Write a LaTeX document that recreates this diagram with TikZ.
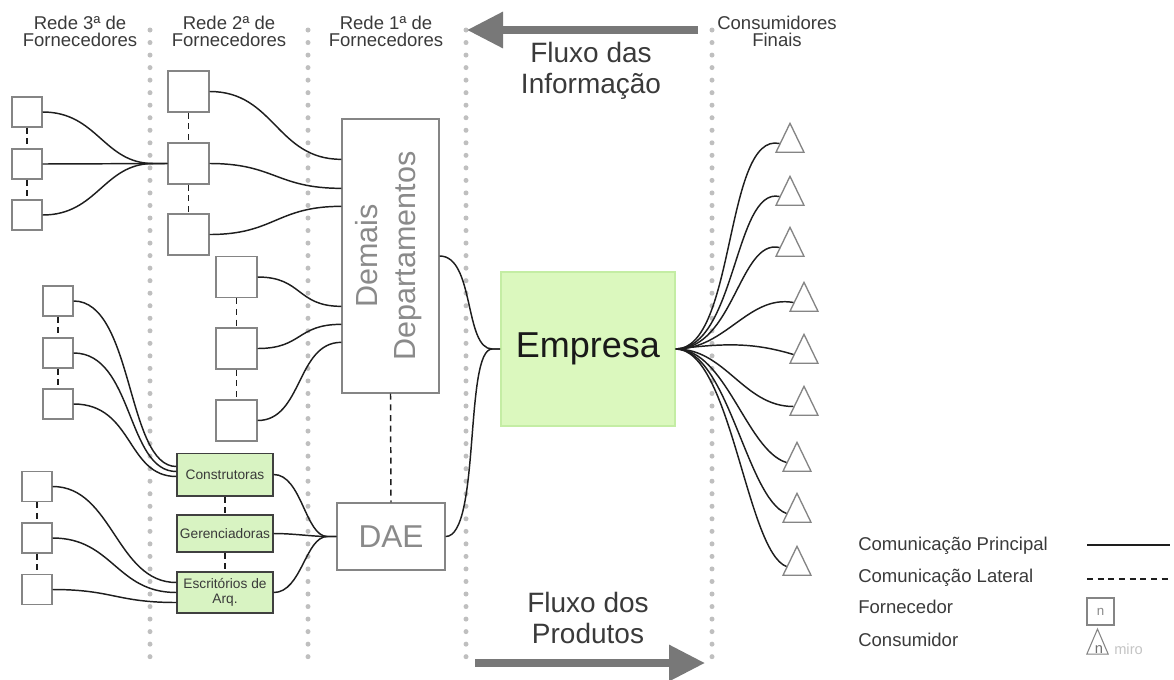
\documentclass[tikz,border=0pt]{standalone}
\usepackage{fontspec}
\setmainfont{Liberation Sans}
\usetikzlibrary{arrows.meta,shapes.geometric,calc}
\definecolor{boxgray}{HTML}{858585}
\definecolor{linec}{HTML}{1E1E1E}
\definecolor{dotc}{HTML}{BFBFBF}
\definecolor{headc}{HTML}{3A3A3A}
\definecolor{greenf}{HTML}{D8F3C2}
\definecolor{empf}{HTML}{DBF8BE}
\definecolor{empd}{HTML}{C4EDA4}
\definecolor{arrowc}{HTML}{787878}
\definecolor{txtgray}{HTML}{8A8A8A}
\definecolor{miroc}{HTML}{C4C4C4}
\begin{document}
\begin{tikzpicture}[x=0.75pt,y=-0.75pt,
  sbox/.style={draw=boxgray, line width=1pt, fill=white, minimum width=22.5pt, minimum height=22.5pt, inner sep=0pt},
  mbox/.style={sbox, minimum width=30.75pt, minimum height=30.75pt},
  gbox/.style={draw=linec!85, line width=1pt, fill=greenf, minimum width=72pt, inner sep=0pt, align=center, font=\fontsize{10.3pt}{11.3pt}\selectfont, text=headc},
  tri/.style={draw=boxgray, line width=1pt, fill=white, isosceles triangle, isosceles triangle stretches, shape border rotate=90, minimum width=21pt, minimum height=21.75pt, inner sep=0pt},
  conn/.style={draw=linec, line width=1.1pt},
  lat/.style={draw=linec, line width=1.1pt, dash pattern=on 4.5pt off 3.5pt},
  dotline/.style={draw=dotc, line width=3.75pt, line cap=round, dash pattern=on 0pt off 9.4pt},
  head/.style={text=headc, align=center, font=\fontsize{13.9pt}{12.9pt}\selectfont, inner sep=0pt},
  flux/.style={text=headc, align=center, font=\fontsize{21pt}{23pt}\selectfont, inner sep=0pt},
  leg/.style={text=headc, inner sep=0pt, anchor=base west, font=\fontsize{13.9pt}{14pt}\selectfont},
  bigarrow/.style={draw=arrowc, line width=5.5pt, -{Triangle[length=27pt,width=26pt]}}
]
\useasboundingbox (0,0) rectangle (1174,679);

% dotted separators
\foreach \x in {150,308,466,712} \draw[dotline] (\x,30) -- (\x,668);

% headers
\node[head] (h3) at (80,31) {Rede 3ª de\\Fornecedores};
\node[head] (h2) at (229,31) {Rede 2ª de\\Fornecedores};
\node[head] (h1) at (386,31) {Rede 1ª de\\Fornecedores};
\node[head] (h0) at (777,31) {Consumidores\\Finais};

% flow texts and arrows
\node[flux] (fi) at (591,71) {Fluxo das\\Informação};
\node[flux] (fp) at (588,618) {Fluxo dos\\Produtos};
\coordinate (ia) at (698,30); \coordinate (ib) at (467,30);
\draw[bigarrow] (ia) -- (ib);
\coordinate (pa) at (475,663); \coordinate (pb) at (705,663);
\draw[bigarrow] (pa) -- (pb);

% third tier suppliers
\node[sbox] (a1) at (27,112) {};
\node[sbox] (a2) at (27,164) {};
\node[sbox] (a3) at (27,215) {};
\node[sbox] (d1) at (58,301) {};
\node[sbox] (d2) at (58,353) {};
\node[sbox] (d3) at (58,404) {};
\node[sbox] (e1) at (37,486.5) {};
\node[sbox] (e2) at (37,538) {};
\node[sbox] (e3) at (37,589.5) {};

% second tier suppliers
\node[mbox] (b1) at (188.5,91.5) {};
\node[mbox] (b2) at (188.5,163.5) {};
\node[mbox] (b3) at (188.5,234.5) {};
\node[mbox] (c1) at (236.5,277) {};
\node[mbox] (c2) at (236.5,348.5) {};
\node[mbox] (c3) at (236.5,420.5) {};
\node[gbox, minimum height=32pt] (cons) at (225,474.5) {Construtoras};
\node[gbox, minimum height=27.75pt] (ger) at (225,533.5) {Gerenciadoras};
\node[gbox, minimum height=30.75pt] (esc) at (225,592.5) {Escritórios de\\Arq.};

% first tier
\node[draw=boxgray, line width=1pt, fill=white, minimum width=72.75pt, minimum height=205.5pt, inner sep=0pt] (dem) at (390.5,256) {};
\node[text=txtgray, rotate=90, align=center, font=\fontsize{22.9pt}{28.5pt}\selectfont, inner sep=0pt] (demt) at (389,256) {Demais\\Departamentos};
\node[draw=boxgray, line width=1pt, fill=white, minimum width=81pt, minimum height=50.25pt, inner sep=0pt, text=txtgray, font=\fontsize{23.7pt}{24pt}\selectfont] (dae) at (391,536.5) {DAE};

% company
\node[draw=empd, line width=1.2pt, fill=empf, minimum width=130.5pt, minimum height=115.5pt, inner sep=0pt, text=black!90, font=\fontsize{27pt}{28pt}\selectfont] (emp) at (588,349) {Empresa};

% consumers
\node[tri] (t1) at (790,143.5) {};
\node[tri] (t2) at (790,196.5) {};
\node[tri] (t3) at (790,247.5) {};
\node[tri] (t4) at (804,302.5) {};
\node[tri] (t5) at (804,354.5) {};
\node[tri] (t6) at (804,406.5) {};
\node[tri] (t7) at (797,462.5) {};
\node[tri] (t8) at (797,513.5) {};
\node[tri] (t9) at (797,566.5) {};

% lateral (dashed) links
\draw[lat] (a1.south) -- (a2.north);
\draw[lat] (a2.south) -- (a3.north);
\draw[lat] (d1.south) -- (d2.north);
\draw[lat] (d2.south) -- (d3.north);
\draw[lat] (e1.south) -- (e2.north);
\draw[lat] (e2.south) -- (e3.north);
\draw[lat] (b1.south) -- (b2.north);
\draw[lat] (b2.south) -- (b3.north);
\draw[lat] (c1.south) -- (c2.north);
\draw[lat] (c2.south) -- (c3.north);
\draw[lat] (cons.south) -- (ger.north);
\draw[lat] (ger.south) -- (esc.north);
\draw[lat] (dem.south) -- (dae.north);

% main links
\draw[conn] (a1.east) .. controls +(55,0) and +(-50,0) .. ($(b2.west)+(-14,0)$) -- (b2.west);
\draw[conn] (a2.east) -- (b2.west);
\draw[conn] (a3.east) .. controls +(55,0) and +(-50,0) .. ($(b2.west)+(-14,0)$) -- (b2.west);

\draw[conn] (b1.east) .. controls +(65,0) and +(-65,0) .. ($(dem.north west)+(0,41)$);
\draw[conn] (b2.east) .. controls +(65,0) and +(-65,0) .. ($(dem.north west)+(0,70)$);
\draw[conn] (b3.east) .. controls +(65,0) and +(-65,0) .. ($(dem.north west)+(0,88)$);
\draw[conn] (c1.east) .. controls +(45,0) and +(-45,0) .. ($(dem.north west)+(0,188)$);
\draw[conn] (c2.east) .. controls +(45,0) and +(-45,0) .. ($(dem.north west)+(0,206)$);
\draw[conn] (c3.east) .. controls +(45,0) and +(-45,0) .. ($(dem.north west)+(0,224)$);

\draw[conn] (d1.east) .. controls +(60,0) and +(-50,0) .. ($(cons.west)+(0,-8)$);
\draw[conn] (d2.east) .. controls +(60,0) and +(-50,0) .. ($(cons.west)+(0,-3)$);
\draw[conn] (d3.east) .. controls +(60,0) and +(-50,0) .. ($(cons.west)+(0,2)$);

\draw[conn] (e1.east) .. controls +(60,0) and +(-60,0) .. ($(esc.west)+(0,-10)$);
\draw[conn] (e2.east) .. controls +(60,0) and +(-60,0) .. ($(esc.west)+(0,0)$);
\draw[conn] (e3.east) .. controls +(60,0) and +(-60,0) .. ($(esc.west)+(0,10)$);

\draw[conn] (cons.east) .. controls +(28,0) and +(-22,0) .. ($(dae.west)+(-9,0)$) -- (dae.west);
\draw[conn] (ger.east) .. controls +(20,0) and +(-15,0) .. ($(dae.west)+(-9,0)$) -- (dae.west);
\draw[conn] (esc.east) .. controls +(28,0) and +(-22,0) .. ($(dae.west)+(-9,0)$) -- (dae.west);

\draw[conn] (dem.east) .. controls +(35,0) and +(-28,0) .. ($(emp.west)+(-8,0)$) -- (emp.west);
\draw[conn] (dae.east) .. controls +(35,0) and +(-28,0) .. ($(emp.west)+(-8,0)$) -- (emp.west);

\draw[conn] (emp.east) .. controls +(60,0) and +(-55,-12) .. (t1.west);
\draw[conn] (emp.east) .. controls +(60,0) and +(-45,-10) .. (t2.west);
\draw[conn] (emp.east) .. controls +(58,0) and +(-40,-9) .. (t3.west);
\draw[conn] (emp.east) .. controls +(50,0) and +(-45,-8) .. (t4.west);
\draw[conn] (emp.east) .. controls +(50,-6) and +(-40,-12) .. (t5.west);
\draw[conn] (emp.east) .. controls +(50,0) and +(-50,0) .. (t6.west);
\draw[conn] (emp.east) .. controls +(50,0) and +(-40,-12) .. (t7.west);
\draw[conn] (emp.east) .. controls +(52,0) and +(-40,-15) .. (t8.west);
\draw[conn] (emp.east) .. controls +(55,0) and +(-40,-15) .. (t9.west);

% legend
\node[leg] (l1) at (858,550) {Comunicação Principal};
\node[leg] (l2) at (858,582) {Comunicação Lateral};
\node[leg] (l3) at (858,613) {Fornecedor};
\node[leg] (l4) at (858,646) {Consumidor};
\coordinate (s1a) at (1087,545); \coordinate (s1b) at (1170,545);
\draw[conn] (s1a) -- (s1b);
\coordinate (s2a) at (1087,579); \coordinate (s2b) at (1170,579);
\draw[lat] (s2a) -- (s2b);
\node[sbox, minimum width=20.25pt, minimum height=20.25pt, text=txtgray, font=\fontsize{10pt}{10pt}\selectfont] (lf) at (1100.5,611.5) {n};
\node[tri, minimum width=16pt, minimum height=18.75pt, line width=0.8pt] (lc) at (1097.5,647) {};
\node[text=txtgray!80!black, inner sep=0pt, font=\fontsize{11pt}{11pt}\selectfont] (lcn) at (1099,649.5) {n};
\node[text=miroc, inner sep=0pt, anchor=west, font=\fontsize{11pt}{11pt}\selectfont] (miro) at (1114,649) {miro};
\end{tikzpicture}
\end{document}
